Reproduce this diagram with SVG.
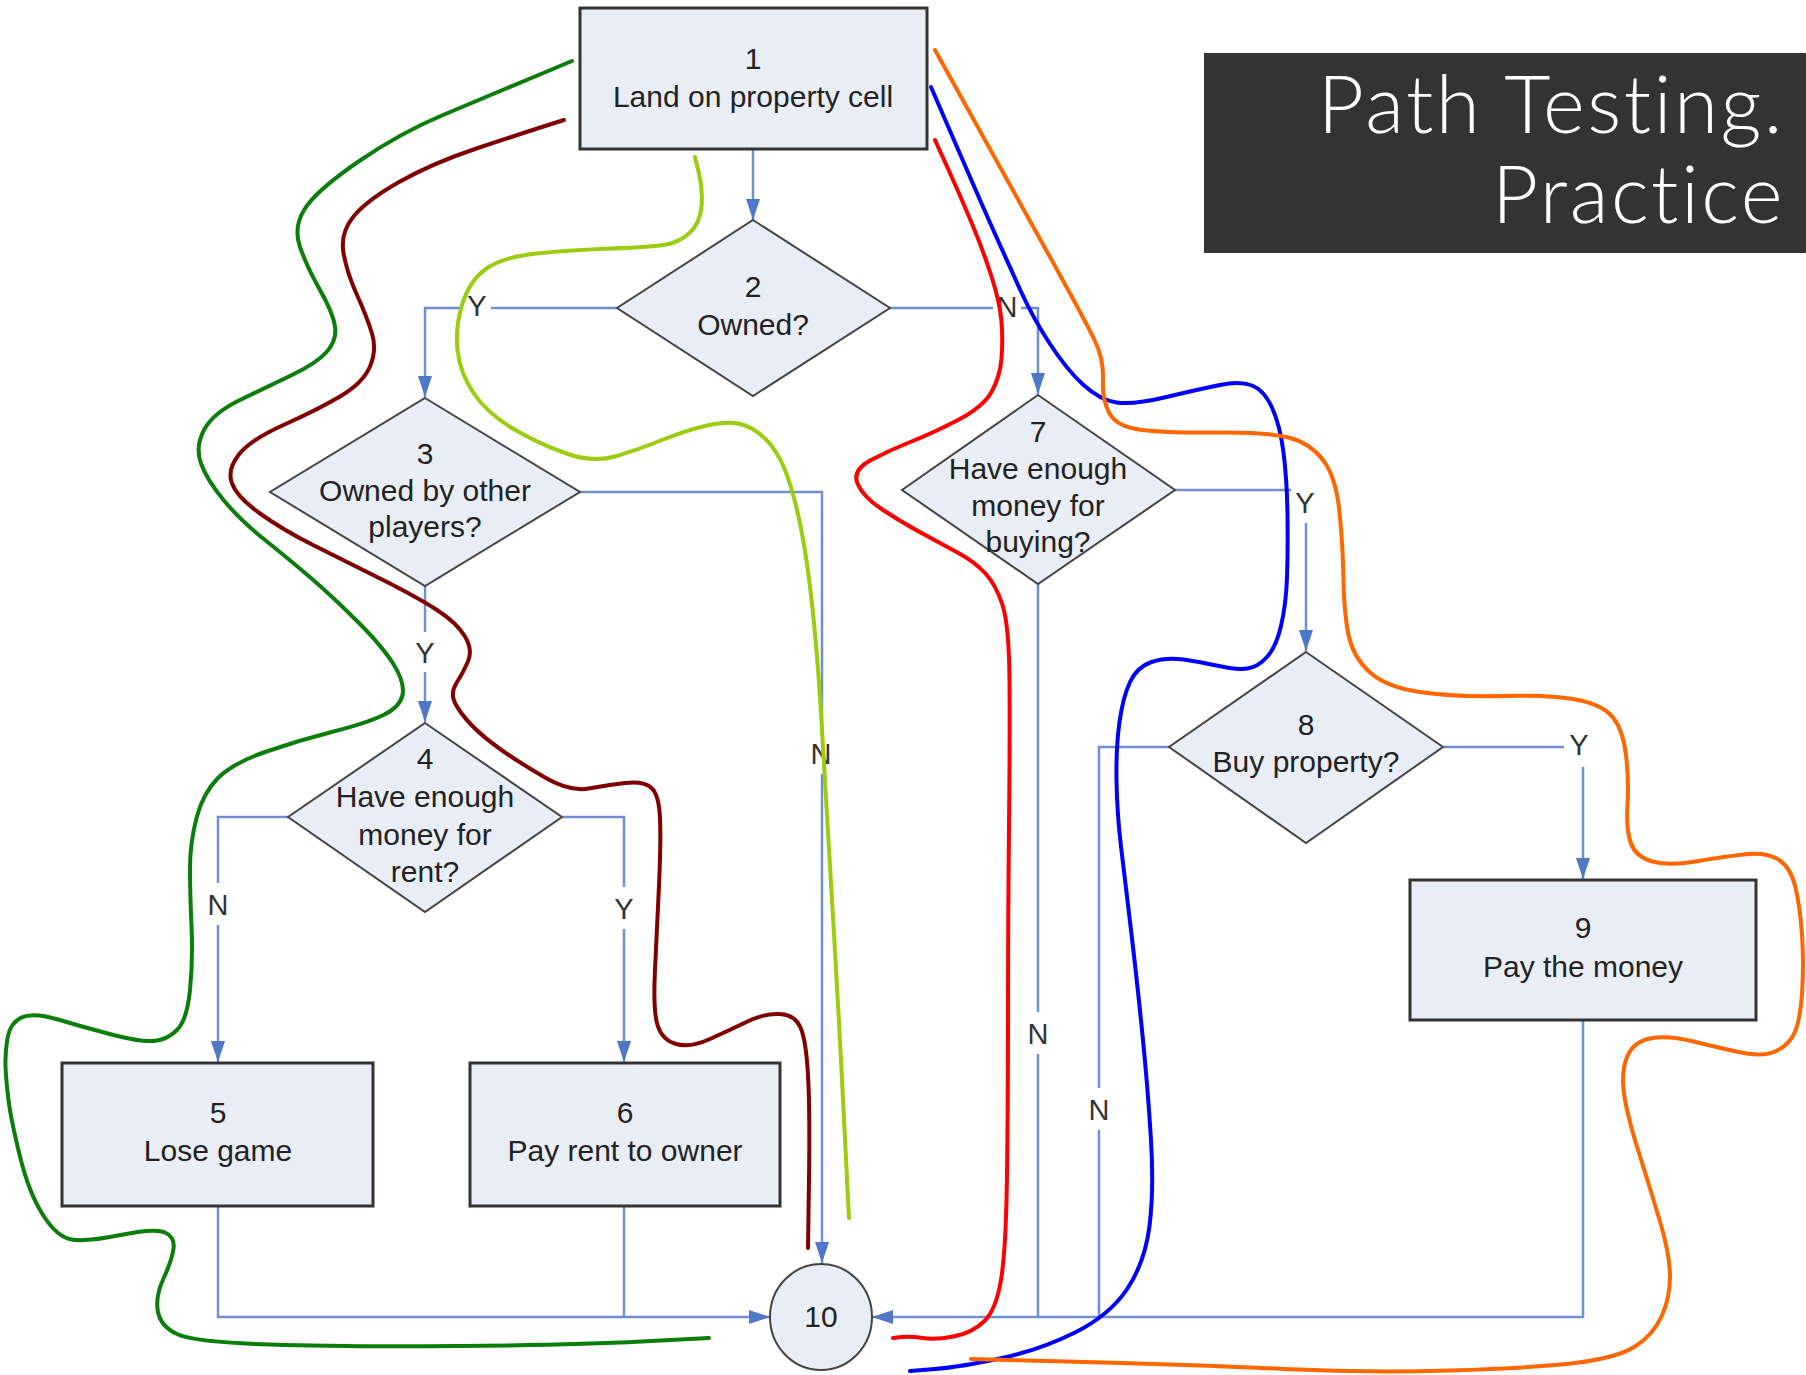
<svg xmlns="http://www.w3.org/2000/svg" width="1806" height="1375" viewBox="0 0 1806 1375">
  <style>
    .node { fill: #e8edf6; stroke: #333333; stroke-width: 3; }
    .dia { fill: #e8edf6; stroke: #444444; stroke-width: 2; }
    .txt { font-family: "Liberation Sans", Arial, sans-serif; font-size: 30px; fill: #222222; text-anchor: middle; }
    .conn { fill: none; stroke: #6f8fd0; stroke-width: 2.5; }
    .gap { fill: #ffffff; }
    .lbl { font-family: "Liberation Sans", Arial, sans-serif; font-size: 29px; fill: #333333; text-anchor: middle; }
    .path { fill: none; stroke-width: 4; stroke-linecap: round; stroke-linejoin: round; }
    .title { font-family: "Lato", "Open Sans", sans-serif; font-weight: 300; font-size: 80px; letter-spacing: 2.5px; fill: #ffffff; text-anchor: end; }
  </style>
  <defs>
    <marker id="arrow" markerUnits="userSpaceOnUse" markerWidth="22" markerHeight="16" refX="21" refY="8" orient="auto">
      <path d="M0,1 L21,8 L0,15 z" fill="#4f78c8"/>
    </marker>
  </defs>

  <rect width="1806" height="1375" fill="#ffffff"/>

  <!-- flowchart connectors -->
  <g id="connectors">
    <path class="conn" d="M753,150 V220" marker-end="url(#arrow)"/>
    <path class="conn" d="M617,308 H425 V397" marker-end="url(#arrow)"/>
    <path class="conn" d="M890,308 H1038 V394" marker-end="url(#arrow)"/>
    <path class="conn" d="M580,492 H822 V1263" marker-end="url(#arrow)"/>
    <path class="conn" d="M425,586 V722" marker-end="url(#arrow)"/>
    <path class="conn" d="M288,817 H218 V1062" marker-end="url(#arrow)"/>
    <path class="conn" d="M562,817 H624 V1062" marker-end="url(#arrow)"/>
    <path class="conn" d="M218,1206 V1317 H770" marker-end="url(#arrow)"/>
    <path class="conn" d="M624,1206 V1317"/>
    <path class="conn" d="M1175,490 H1306 V651" marker-end="url(#arrow)"/>
    <path class="conn" d="M1038,583 V1317"/>
    <path class="conn" d="M1169,747 H1099 V1317"/>
    <path class="conn" d="M1443,747 H1583 V879" marker-end="url(#arrow)"/>
    <path class="conn" d="M1583,1020 V1317 H872" marker-end="url(#arrow)"/>

    <!-- branch labels -->
    <rect class="gap" x="463" y="292" width="28" height="30"/>
    <text class="lbl" x="477" y="316">Y</text>
    <rect class="gap" x="993" y="292" width="28" height="30"/>
    <text class="lbl" x="1007" y="317">N</text>
    <rect class="gap" x="808" y="734" width="26" height="40"/>
    <text class="lbl" x="821" y="764">N</text>
    <rect class="gap" x="412" y="632" width="26" height="40"/>
    <text class="lbl" x="425" y="663">Y</text>
    <rect class="gap" x="205" y="883" width="26" height="42"/>
    <text class="lbl" x="218" y="915">N</text>
    <rect class="gap" x="611" y="887" width="26" height="42"/>
    <text class="lbl" x="624" y="919">Y</text>
    <rect class="gap" x="1291" y="484" width="28" height="39"/>
    <text class="lbl" x="1305" y="513">Y</text>
    <rect class="gap" x="1564" y="728" width="30" height="39"/>
    <text class="lbl" x="1579" y="755">Y</text>
    <rect class="gap" x="1025" y="1012" width="26" height="42"/>
    <text class="lbl" x="1038" y="1044">N</text>
    <rect class="gap" x="1086" y="1088" width="26" height="42"/>
    <text class="lbl" x="1099" y="1120">N</text>
  </g>

  <!-- flowchart nodes -->
  <g id="n1">
    <rect class="node" x="580" y="8" width="347" height="141"/>
    <text class="txt" x="753" y="69">1</text>
    <text class="txt" x="753" y="107">Land on property cell</text>
  </g>
  <g id="n2">
    <polygon class="dia" points="753,220 890,308 753,396 617,308"/>
    <text class="txt" x="753" y="297">2</text>
    <text class="txt" x="753" y="335">Owned?</text>
  </g>
  <g id="n3">
    <polygon class="dia" points="425,398 580,492 425,586 270,492"/>
    <text class="txt" x="425" y="464">3</text>
    <text class="txt" x="425" y="501">Owned by other</text>
    <text class="txt" x="425" y="537">players?</text>
  </g>
  <g id="n4">
    <polygon class="dia" points="425,723 562,817 425,912 288,817"/>
    <text class="txt" x="425" y="769">4</text>
    <text class="txt" x="425" y="807">Have enough</text>
    <text class="txt" x="425" y="845">money for</text>
    <text class="txt" x="425" y="882">rent?</text>
  </g>
  <g id="n5">
    <rect class="node" x="62" y="1063" width="311" height="143"/>
    <text class="txt" x="218" y="1123">5</text>
    <text class="txt" x="218" y="1161">Lose game</text>
  </g>
  <g id="n6">
    <rect class="node" x="470" y="1063" width="310" height="143"/>
    <text class="txt" x="625" y="1123">6</text>
    <text class="txt" x="625" y="1161">Pay rent to owner</text>
  </g>
  <g id="n7">
    <polygon class="dia" points="1038,395 1175,490 1038,584 902,490"/>
    <text class="txt" x="1038" y="442">7</text>
    <text class="txt" x="1038" y="479">Have enough</text>
    <text class="txt" x="1038" y="516">money for</text>
    <text class="txt" x="1038" y="552">buying?</text>
  </g>
  <g id="n8">
    <polygon class="dia" points="1306,652 1443,747 1306,843 1169,747"/>
    <text class="txt" x="1306" y="735">8</text>
    <text class="txt" x="1306" y="772">Buy property?</text>
  </g>
  <g id="n9">
    <rect class="node" x="1410" y="880" width="346" height="140"/>
    <text class="txt" x="1583" y="938">9</text>
    <text class="txt" x="1583" y="977">Pay the money</text>
  </g>
  <g id="n10">
    <ellipse class="dia" cx="821" cy="1317" rx="51" ry="53"/>
    <text class="txt" x="821" y="1327">10</text>
  </g>

  <!-- hand-drawn test paths -->
  <g id="test-paths">
    <path class="path" stroke="#0a7d0a" d="M572,61 L529,79 Q486,97 443,115 Q400,133 358.5,161.5 Q317,190 305,208.5 Q293,227 300,247 Q307,267 320,290 Q333,313 335,326.5 Q337,340 327,351.5 Q317,363 292,375 Q267,387 240,400 Q213,413 204,430 Q195,447 201,463.5 Q207,480 223.5,500 Q240,520 265,540 Q290,560 311.5,578.5 Q333,597 358,622 Q383,647 394,665 Q405,683 402.5,695 Q400,707 383.5,715 Q367,723 333.5,731.5 Q300,740 266.5,751.5 Q233,763 218,778 Q203,793 196.5,818 Q190,843 190,868 Q190,893 191.5,926.5 Q193,960 190,990 Q187,1020 177,1030 Q167,1040 153.5,1041 Q140,1042 111.5,1034.5 Q83,1027 58,1019.5 Q33,1012 21.5,1017.5 Q10,1023 7.5,1038 Q5,1053 5.5,1066.5 Q6,1080 8.5,1100 Q11,1120 20,1156.5 Q29,1193 43,1215 Q57,1237 71.5,1239.5 Q86,1242 120.5,1235 Q155,1228 165,1232.5 Q175,1237 173.5,1248.5 Q172,1260 163.5,1278.5 Q155,1297 158,1312 Q161,1327 178,1334.5 Q195,1342 269.5,1344.5 Q344,1347 459,1346 Q574,1345 641.5,1341.5 L709,1338"/>
    <path class="path" stroke="#800000" d="M564,120 L542,127 Q520,134 476.5,148.5 Q433,163 400,181.5 Q367,200 353.5,216.5 Q340,233 343.5,253 Q347,273 357,295 Q367,317 372,333.5 Q377,350 370,366.5 Q363,383 340,396.5 Q317,410 283.5,425 Q250,440 238.5,455 Q227,470 232,483.5 Q237,497 260,513.5 Q283,530 313,545 Q343,560 380,578.5 Q417,597 437,610 Q457,623 465,636.5 Q473,650 468,661.5 Q463,673 456.5,683 Q450,693 455,703 Q460,713 471.5,725 Q483,737 501.5,750 Q520,763 545,777.5 Q570,792 588.5,788.5 Q607,785 625.5,783 Q644,781 651.5,788 Q659,795 660,818 Q661,841 659,885.5 Q657,930 655,970 Q653,1010 657.5,1025 Q662,1040 676,1044 Q690,1048 710,1039 Q730,1030 747.5,1021.5 Q765,1013 780,1014 Q795,1015 800.5,1027.5 Q806,1040 808,1075 Q810,1110 809,1179 L808,1248"/>
    <path class="path" stroke="#9ccc0e" d="M695,157 L699,173.5 Q703,190 701.5,206.5 Q700,223 690,232.5 Q680,242 666.5,244.5 Q653,247 611.5,248.5 Q570,250 536.5,253.5 Q503,257 486.5,268.5 Q470,280 462.5,303.5 Q455,327 457.5,350 Q460,373 473.5,393 Q487,413 512,428 Q537,443 565,453 Q593,463 615,456.5 Q637,450 662,440 Q687,430 707,425.5 Q727,421 740,424 Q753,427 765,438.5 Q777,450 785,470 Q793,490 800,523.5 Q807,557 812.5,608.5 Q818,660 822,730 Q826,800 832,900 Q838,1000 843.5,1109 L849,1218"/>
    <path class="path" stroke="#ff0000" d="M935,140 L947.5,167.5 Q960,195 971.5,222.5 Q983,250 991.5,276.5 Q1000,303 1001.5,321.5 Q1003,340 1001.5,358.5 Q1000,377 991.5,392 Q983,407 958,420 Q933,433 911.5,441.5 Q890,450 871,460 Q852,470 857.5,483.5 Q863,497 883,510 Q903,523 921.5,533 Q940,543 957.5,552.5 Q975,562 985.5,573.5 Q996,585 1002.5,605 Q1009,625 1009.5,680 Q1010,735 1009,825.5 Q1008,916 1008,1008 Q1008,1100 1007,1175 Q1006,1250 1001,1280 Q996,1310 984,1321.5 Q972,1333 953.5,1336.5 Q935,1340 922.5,1338 Q910,1336 901.5,1337 L893,1338"/>
    <path class="path" stroke="#0000ff" d="M931,87 L944,117 Q957,147 970,177 Q983,207 995.5,235 Q1008,263 1020.5,290.5 Q1033,318 1050,344 Q1067,370 1083.5,385 Q1100,400 1116.5,402.5 Q1133,405 1166.5,397 Q1200,389 1220,385 Q1240,381 1252,385.5 Q1264,390 1272,407.5 Q1280,425 1283.5,452.5 Q1287,480 1287.5,515 Q1288,550 1287,577.5 Q1286,605 1281,626 Q1276,647 1267,657 Q1258,667 1247.5,668.5 Q1237,670 1219,666 Q1201,662 1183.5,659.5 Q1166,657 1151.5,662 Q1137,667 1130,682 Q1123,697 1119.5,722 Q1116,747 1116.5,780 Q1117,813 1121,846.5 Q1125,880 1131,930 Q1137,980 1142.5,1035 Q1148,1090 1151,1140 Q1154,1190 1149.5,1226 Q1145,1262 1127.5,1288.5 Q1110,1315 1075,1332.5 Q1040,1350 1000,1358.5 Q960,1367 935,1369 L910,1371"/>
    <path class="path" stroke="#ff6600" d="M935,50 L972.5,117.5 Q1010,185 1047.5,252.5 Q1085,320 1094.5,340 Q1104,360 1103,380 Q1102,400 1109.5,413.5 Q1117,427 1142,430 Q1167,433 1217,432.5 Q1267,432 1288.5,437.5 Q1310,443 1323,460 Q1336,477 1339.5,512 Q1343,547 1343.5,580 Q1344,613 1348.5,635 Q1353,657 1369.5,672 Q1386,687 1419.5,692 Q1453,697 1503,696 Q1553,695 1578,700 Q1603,705 1613,717.5 Q1623,730 1626,755 Q1629,780 1627.5,805 Q1626,830 1631,843.5 Q1636,857 1652.5,861.5 Q1669,866 1695.5,861.5 Q1722,857 1743.5,854.5 Q1765,852 1777.5,859 Q1790,866 1795,885.5 Q1800,905 1802,935 Q1804,965 1802,993.5 Q1800,1022 1794,1034 Q1788,1046 1775,1051.5 Q1762,1057 1741,1052.5 Q1720,1048 1693.5,1041.5 Q1667,1035 1650,1038.5 Q1633,1042 1627,1057 Q1621,1072 1624,1093.5 Q1627,1115 1638.5,1151.5 Q1650,1188 1660,1221.5 Q1670,1255 1670,1276.5 Q1670,1298 1661.5,1316.5 Q1653,1335 1635,1346.5 Q1617,1358 1575,1363 Q1533,1368 1450,1370.5 Q1367,1373 1283.5,1369 Q1200,1365 1085.5,1362 L971,1359"/>
  </g>

  <!-- title panel -->
  <g id="title">
    <rect x="1204" y="53" width="602" height="200" fill="#333333"/>
    <text class="title" x="1785" y="133">Path Testing.</text>
    <text class="title" x="1785" y="223">Practice</text>
  </g>
</svg>
